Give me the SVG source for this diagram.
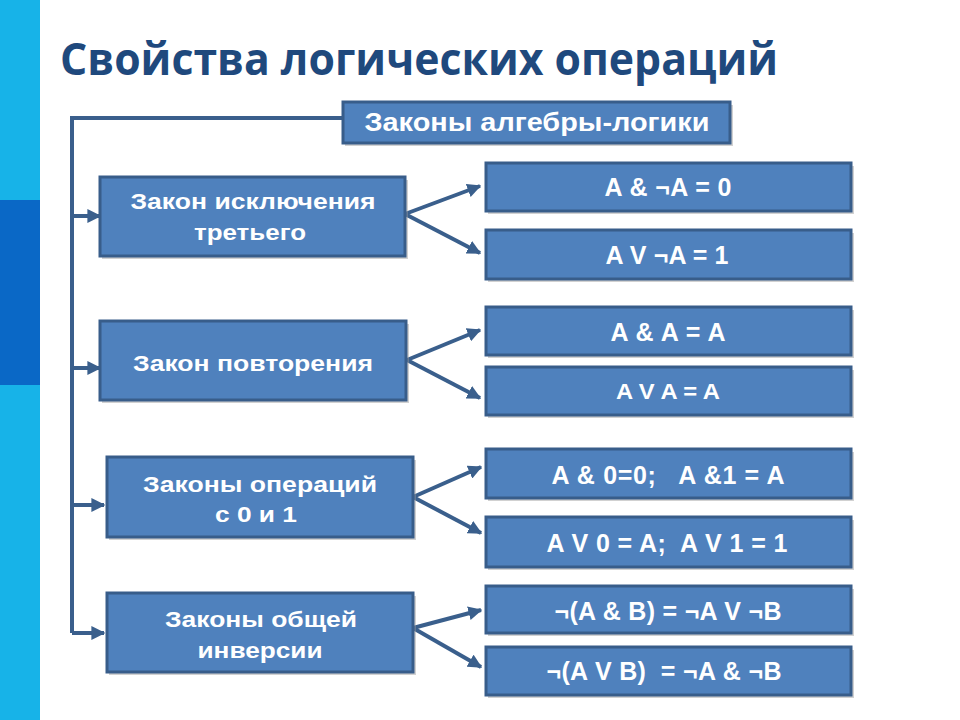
<svg xmlns="http://www.w3.org/2000/svg" width="960" height="720" viewBox="0 0 960 720">
<defs>
<style>
.box{fill:#4f81bd;stroke:#385d8a;stroke-width:3}
.sh{fill:#9a9a9a;opacity:0.45}
.t{font-family:"Liberation Sans",Arial,sans-serif;font-weight:bold;fill:#ffffff;text-anchor:middle}
.l{font-size:22.5px}
.r{font-size:25px}
.c{stroke:#3a5f8c;stroke-width:4;fill:none}
.title{font-family:"Open Sans","Liberation Sans",sans-serif;font-weight:bold;font-size:44px;fill:#1f497d}
</style>
<marker id="ah" viewBox="0 0 10 10" refX="9" refY="5" markerWidth="3.5" markerHeight="3.5" orient="auto" markerUnits="strokeWidth">
<path d="M0,0 L10,5 L0,10 z" fill="#3a5f8c"/>
</marker>
</defs>
<rect width="960" height="720" fill="#ffffff"/>
<rect x="0" y="0" width="40" height="720" fill="#17b3e8"/>
<rect x="0" y="200" width="40" height="185" fill="#0a68c6"/>
<text class="title" x="60" y="75" textLength="718" lengthAdjust="spacingAndGlyphs">Свойства логических операций</text>

<g id="connectors">
<path class="c" d="M345,118 H72 V633"/>
<path class="c" d="M72,216 H100" marker-end="url(#ah)"/>
<path class="c" d="M72,368 H100" marker-end="url(#ah)"/>
<path class="c" d="M72,505 H104" marker-end="url(#ah)"/>
<path class="c" d="M72,633 H104" marker-end="url(#ah)"/>
<path class="c" d="M405,214 L480,186" marker-end="url(#ah)"/>
<path class="c" d="M405,214 L480,253" marker-end="url(#ah)"/>
<path class="c" d="M407,360 L480,330" marker-end="url(#ah)"/>
<path class="c" d="M407,360 L480,398" marker-end="url(#ah)"/>
<path class="c" d="M413,497 L481,467" marker-end="url(#ah)"/>
<path class="c" d="M413,497 L481,533" marker-end="url(#ah)"/>
<path class="c" d="M413,628 L481,610" marker-end="url(#ah)"/>
<path class="c" d="M413,628 L481,667" marker-end="url(#ah)"/>
</g>

<g id="root">
<rect class="sh" x="345" y="105" width="388" height="41"/>
<rect class="box" x="343" y="102" width="387" height="41"/>
<text class="t r" x="537" y="131" textLength="345" lengthAdjust="spacingAndGlyphs">Законы алгебры-логики</text>
</g>

<g id="law1">
<rect class="sh" x="102" y="180" width="306" height="79"/>
<rect class="box" x="100" y="177" width="305" height="79"/>
<text class="t l" x="253" y="209" textLength="245" lengthAdjust="spacingAndGlyphs">Закон исключения</text>
<text class="t l" x="250" y="240" textLength="112" lengthAdjust="spacingAndGlyphs">третьего</text>
</g>
<g id="f1">
<rect class="sh" x="488" y="166" width="366" height="48"/>
<rect class="box" x="486" y="163" width="365" height="48"/>
<text class="t r" x="668" y="196" textLength="127">A &amp; ¬A = 0</text>
</g>
<g id="f2">
<rect class="sh" x="488" y="233" width="366" height="49"/>
<rect class="box" x="486" y="230" width="365" height="49"/>
<text class="t r" x="667" y="264" textLength="123">A V ¬A = 1</text>
</g>

<g id="law2">
<rect class="sh" x="102" y="324" width="307" height="79"/>
<rect class="box" x="100" y="321" width="306" height="79"/>
<text class="t l" x="253" y="371" textLength="240" lengthAdjust="spacingAndGlyphs">Закон повторения</text>
</g>
<g id="f3">
<rect class="sh" x="488" y="310" width="366" height="48"/>
<rect class="box" x="486" y="307" width="365" height="48"/>
<text class="t r" x="668" y="341" textLength="115">A &amp; A = A</text>
</g>
<g id="f4">
<rect class="sh" x="488" y="370" width="366" height="48"/>
<rect class="box" x="486" y="367" width="365" height="48"/>
<text class="t" style="font-size:22px" x="668" y="399" textLength="104" lengthAdjust="spacingAndGlyphs">A V A = A</text>
</g>

<g id="law3">
<rect class="sh" x="109" y="460" width="307" height="80"/>
<rect class="box" x="107" y="457" width="306" height="80"/>
<text class="t l" x="260" y="492" textLength="234" lengthAdjust="spacingAndGlyphs">Законы операций</text>
<text class="t l" x="256" y="522" textLength="82" lengthAdjust="spacingAndGlyphs">с 0 и 1</text>
</g>
<g id="f5">
<rect class="sh" x="488" y="452" width="366" height="49"/>
<rect class="box" x="486" y="449" width="365" height="49"/>
<text class="t r" x="668" y="484" xml:space="preserve" textLength="233">A &amp; 0=0;   A &amp;1 = A</text>
</g>
<g id="f6">
<rect class="sh" x="488" y="520" width="366" height="50"/>
<rect class="box" x="486" y="517" width="365" height="50"/>
<text class="t r" x="667" y="552" xml:space="preserve" textLength="241">A V 0 = A;  A V 1 = 1</text>
</g>

<g id="law4">
<rect class="sh" x="109" y="596" width="307" height="79"/>
<rect class="box" x="107" y="593" width="306" height="79"/>
<text class="t l" x="261" y="627" textLength="192" lengthAdjust="spacingAndGlyphs">Законы общей</text>
<text class="t l" x="260" y="658" textLength="125" lengthAdjust="spacingAndGlyphs">инверсии</text>
</g>
<g id="f7">
<rect class="sh" x="488" y="589" width="366" height="47"/>
<rect class="box" x="486" y="586" width="365" height="47"/>
<text class="t r" x="668" y="620" textLength="227">¬(A &amp; B) = ¬A V ¬B</text>
</g>
<g id="f8">
<rect class="sh" x="488" y="650" width="366" height="48"/>
<rect class="box" x="486" y="647" width="365" height="48"/>
<text class="t r" x="664" y="680" xml:space="preserve" textLength="235">¬(A V B)  = ¬A &amp; ¬B</text>
</g>
</svg>
